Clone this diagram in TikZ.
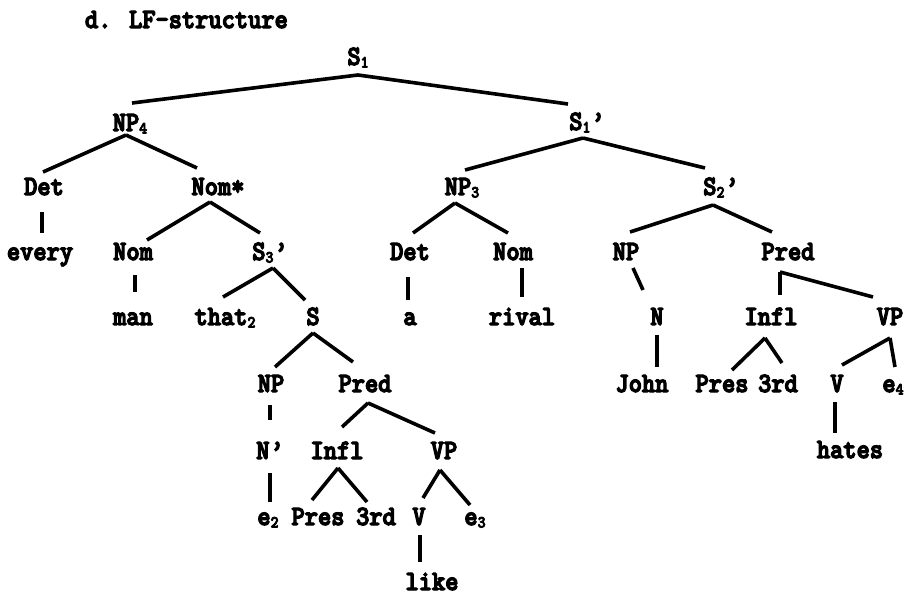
\documentclass[tikz,border=0pt]{standalone}
\usepackage{fontspec}
\usetikzlibrary{calc}
% Heavy slab-serif typewriter face for all labels
\newfontfamily\lblfont{lmmonolt10-bold}[Extension=.otf,FakeBold=4.5,FakeStretch=0.9]
\newcommand\lsub[1]{\raisebox{-2.5pt}{\fontsize{17}{17}\selectfont #1}}
\newcommand\lprm{\kern1pt’}
\tikzset{
  lbl/.style={font=\lblfont\fontsize{28}{28}\selectfont, inner sep=0pt, outer sep=0pt, anchor=base},
  branch/.style={line width=3.6pt}
}
\begin{document}
\begin{tikzpicture}[x=1pt,y=-1pt]
\useasboundingbox (0,0) rectangle (908,597);

\node[lbl, anchor=base west] (title) at (85,28) {d. LF-structure};

% labels, placed by horizontal centre and baseline
\node[lbl] (S1)      at (358,65)  {S\lsub{1}};
\node[lbl] (NP4)     at (130,131) {NP\lsub{4}};
\node[lbl] (S1p)     at (587,130) {S\lsub{1}\lprm};
\node[lbl] (Det1)    at (44,195)  {Det};
\node[lbl] (NomStar) at (218,195) {Nom*};
\node[lbl] (NP3)     at (462,195) {NP\lsub{3}};
\node[lbl] (S2p)     at (721,195) {S\lsub{2}\lprm};
\node[lbl] (every)   at (40,260)  {every};
\node[lbl] (Nom1)    at (133,260) {Nom};
\node[lbl] (S3p)     at (270,260) {S\lsub{3}\lprm};
\node[lbl] (Det2)    at (410,260) {Det};
\node[lbl] (Nom2)    at (513,260) {Nom};
\node[lbl] (NPr)     at (626,260) {NP};
\node[lbl] (PredR)   at (788,260) {Pred};
\node[lbl] (man)     at (133,325) {man};
\node[lbl] (that)    at (225,325) {that\lsub{2}};
\node[lbl] (Sl)      at (313,325) {S};
\node[lbl] (a)       at (410,325) {a};
\node[lbl] (rival)   at (522,325) {rival};
\node[lbl] (Nr)      at (657,325) {N};
\node[lbl] (InflR)   at (771,325) {Infl};
\node[lbl] (VPR)     at (890,325) {VP};
\node[lbl] (NPl)     at (271,392) {NP};
\node[lbl] (PredL)   at (365,392) {Pred};
\node[lbl] (John)    at (642,392) {John};
\node[lbl] (PresR)   at (722,392) {Pres};
\node[lbl] (thirdR)  at (778,392) {3rd};
\node[lbl] (VR)      at (837,392) {V};
\node[lbl] (e4)      at (893,392) {e\lsub{4}};
\node[lbl] (Np)      at (270,459) {N\lprm};
\node[lbl] (InflL)   at (337,459) {Infl};
\node[lbl] (VPL)     at (444,459) {VP};
\node[lbl] (hates)   at (850,458) {hates};
\node[lbl] (e2)      at (268,525) {e\lsub{2}};
\node[lbl] (PresL)   at (318,525) {Pres};
\node[lbl] (thirdL)  at (376,525) {3rd};
\node[lbl] (VL)      at (419,525) {V};
\node[lbl] (e3)      at (475,525) {e\lsub{3}};
\node[lbl] (like)    at (432,590) {like};

% branches: from below the parent to above the child
\draw[branch] ($(S1.base)+(0,10)$) -- ($(NP4.base)+(2,-28)$);
\draw[branch] ($(S1.base)+(0,10)$) -- ($(S1p.base)+(-19,-26)$);
\draw[branch] ($(NP4.base)+(-4,4)$) -- ($(Det1.base)+(-1,-23)$);
\draw[branch] ($(NP4.base)+(-4,4)$) -- ($(NomStar.base)+(-21,-27)$);
\draw[branch] ($(S1p.base)+(-4,8)$) -- ($(NP3.base)+(3,-25)$);
\draw[branch] ($(S1p.base)+(-4,8)$) -- ($(S2p.base)+(-16,-27)$);
\draw[branch] ($(Det1.base)+(-2,17)$) -- ($(every.base)+(2,-27)$);
\draw[branch] ($(NomStar.base)+(-8,7)$) -- ($(Nom1.base)+(14,-20)$);
\draw[branch] ($(NomStar.base)+(-8,7)$) -- ($(S3p.base)+(-10,-27)$);
\draw[branch] ($(NP3.base)+(-7,8)$) -- ($(Det2.base)+(3,-27)$);
\draw[branch] ($(NP3.base)+(-7,8)$) -- ($(Nom2.base)+(-5,-27)$);
\draw[branch] ($(S2p.base)+(-8,10)$) -- ($(NPr.base)+(4,-28)$);
\draw[branch] ($(S2p.base)+(-8,10)$) -- ($(PredR.base)+(-16,-28)$);
\draw[branch] ($(Nom1.base)+(2,15)$) -- ($(man.base)+(2,-33)$);
\draw[branch] ($(S3p.base)+(3,8)$) -- ($(that.base)+(-2,-28)$);
\draw[branch] ($(S3p.base)+(3,8)$) -- ($(Sl.base)+(-8,-25)$);
\draw[branch] ($(Det2.base)+(-2,17)$) -- ($(a.base)+(-2,-25)$);
\draw[branch] ($(Nom2.base)+(9,8)$) -- ($(rival.base)+(0,-28)$);
\draw[branch] ($(NPr.base)+(7,8)$) -- ($(Nr.base)+(-14,-35)$);
\draw[branch] ($(PredR.base)+(-8,12)$) -- ($(InflR.base)+(9,-30)$);
\draw[branch] ($(PredR.base)+(-8,12)$) -- ($(VPR.base)+(-17,-28)$);
\draw[branch] ($(Sl.base)+(0,8)$) -- ($(NPl.base)+(4,-25)$);
\draw[branch] ($(Sl.base)+(0,8)$) -- ($(PredL.base)+(-12,-30)$);
\draw[branch] ($(Nr.base)+(0,10)$) -- ($(John.base)+(15,-25)$);
\draw[branch] ($(InflR.base)+(-6,13)$) -- ($(PresR.base)+(10,-22)$);
\draw[branch] ($(InflR.base)+(-6,13)$) -- ($(thirdR.base)+(4,-29)$);
\draw[branch] ($(VPR.base)+(0,13)$) -- ($(VR.base)+(5,-27)$);
\draw[branch] ($(VPR.base)+(0,13)$) -- ($(e4.base)+(2,-25)$);
\draw[branch] ($(NPl.base)+(-1,13)$) -- ($(Np.base)+(0,-39)$);
\draw[branch] ($(PredL.base)+(3,11)$) -- ($(InflL.base)+(5,-32)$);
\draw[branch] ($(PredL.base)+(3,11)$) -- ($(VPL.base)+(-9,-26)$);
\draw[branch] ($(Np.base)+(0,14)$) -- ($(e2.base)+(2,-23)$);
\draw[branch] ($(InflL.base)+(1,9)$) -- ($(PresL.base)+(-6,-25)$);
\draw[branch] ($(InflL.base)+(1,9)$) -- ($(thirdL.base)+(-9,-23)$);
\draw[branch] ($(VPL.base)+(-4,11)$) -- ($(VL.base)+(4,-27)$);
\draw[branch] ($(VPL.base)+(-4,11)$) -- ($(e3.base)+(-5,-20)$);
\draw[branch] ($(VL.base)+(1,10)$) -- ($(like.base)+(-12,-28)$);
\draw[branch] ($(VR.base)+(-2,10)$) -- ($(hates.base)+(-15,-25)$);
\end{tikzpicture}
\end{document}
